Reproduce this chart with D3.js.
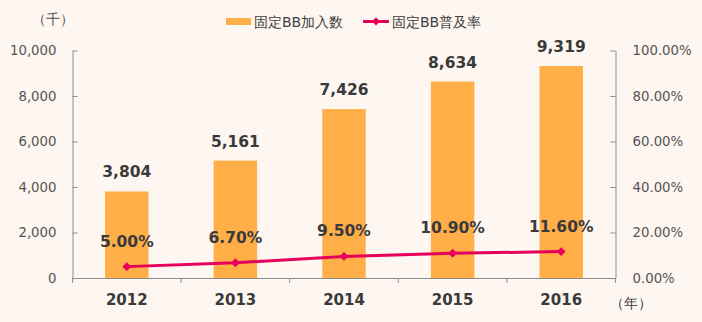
<!DOCTYPE html>
<html>
<head>
<meta charset="utf-8">
<script src="https://cdn.jsdelivr.net/npm/d3@7"></script>
<style>
  html, body { margin: 0; padding: 0; background: #fef6f1; }
  svg { display: block; }
  text { font-family: "DejaVu Sans", Verdana, sans-serif; }
</style>
</head>
<body>
<svg id="chart" width="702" height="322"></svg>
<script>
// Fixed broadband subscriptions (thousands) and penetration rate by year
const years = ["2012", "2013", "2014", "2015", "2016"];
const subscribers = [3804, 5161, 7426, 8634, 9319];
const penetration = [5.00, 6.70, 9.50, 10.90, 11.60];
const leftTicks = [0, 2000, 4000, 6000, 8000, 10000];
const rightTicks = [0, 20, 40, 60, 80, 100];

const svg = d3.select("#chart");
const W = 702, H = 322;
const m = { left: 72.5, right: 702 - 615.5, top: 50.5, bottom: 322 - 278 };

svg.append("rect").attr("width", W).attr("height", H).attr("fill", "#fef6f1");

const x = d3.scaleBand().domain(years).range([m.left, W - m.right]).paddingInner(0).paddingOuter(0);
const yL = d3.scaleLinear().domain([0, 10000]).range([H - m.bottom, m.top]);
const yR = d3.scaleLinear().domain([0, 100]).range([H - m.bottom, m.top]);

const axisColor = "#8c8c8c";
const tickText = "#555";

// bars
const barW = x.bandwidth() * 0.4;
svg.append("g").selectAll("rect").data(years).join("rect")
  .attr("x", (d) => x(d) + (x.bandwidth() - barW) / 2)
  .attr("y", (d, i) => yL(subscribers[i]))
  .attr("width", barW)
  .attr("height", (d, i) => yL(0) - yL(subscribers[i]))
  .attr("fill", "#ffae48");

// left axis
const gL = svg.append("g").attr("transform", `translate(${m.left},0)`)
  .call(d3.axisLeft(yL).tickValues(leftTicks).tickSizeInner(-5).tickSizeOuter(0)
    .tickPadding(16).tickFormat(d3.format(",")));
// right axis
const gR = svg.append("g").attr("transform", `translate(${W - m.right},0)`)
  .call(d3.axisRight(yR).tickValues(rightTicks).tickSizeInner(-5).tickSizeOuter(0)
    .tickPadding(17).tickFormat((d) => d.toFixed(2) + "%"));
// bottom axis with ticks at category boundaries
const gB = svg.append("g").attr("transform", `translate(0,${H - m.bottom})`)
  .call(d3.axisBottom(x).tickSize(0).tickPadding(16));
gB.selectAll(".tick text").attr("font-size", 15).attr("font-weight", "bold").attr("fill", "#3a3a3a");
const bounds = years.map((d) => x(d)).concat([x(years[years.length - 1]) + x.bandwidth()]);
gB.selectAll(".bound").data(bounds).join("line")
  .attr("x1", (d) => d).attr("x2", (d) => d).attr("y1", 0).attr("y2", 5)
  .attr("stroke", axisColor);

[gL, gR, gB].forEach((g) => {
  g.select(".domain").attr("stroke", axisColor);
  g.selectAll(".tick line").attr("stroke", axisColor);
});
[gL, gR].forEach((g) => {
  g.selectAll(".tick text").attr("font-size", 13.3).attr("fill", tickText);
});

// penetration line
const cx = (i) => x(years[i]) + x.bandwidth() / 2;
const line = d3.line().x((d, i) => cx(i)).y((d) => yR(d));
svg.append("path").datum(penetration).attr("d", line)
  .attr("fill", "none").attr("stroke", "#e6005b").attr("stroke-width", 3);
svg.append("g").selectAll("path").data(penetration).join("path")
  .attr("d", d3.symbol(d3.symbolDiamond2, 50)())
  .attr("transform", (d, i) => `translate(${cx(i)},${yR(d)})`)
  .attr("fill", "#e6005b");

// value labels
svg.append("g").selectAll("text").data(subscribers).join("text")
  .attr("x", (d, i) => cx(i)).attr("y", (d) => yL(d) - 14)
  .attr("text-anchor", "middle").attr("font-size", 15.5).attr("font-weight", "bold")
  .attr("fill", "#3a3a3a").text((d) => d3.format(",")(d));
svg.append("g").selectAll("text").data(penetration).join("text")
  .attr("x", (d, i) => cx(i)).attr("y", (d) => yR(d) - 20)
  .attr("text-anchor", "middle").attr("font-size", 15.5).attr("font-weight", "bold")
  .attr("fill", "#3a3a3a").text((d) => d.toFixed(2) + "%");

// unit labels
svg.append("text").attr("x", 53).attr("y", 24).attr("text-anchor", "middle")
  .attr("font-size", 13.5).attr("fill", tickText).text("（千）");
svg.append("text").attr("x", 631).attr("y", 308).attr("text-anchor", "middle")
  .attr("font-size", 13.5).attr("fill", "#3a3a3a").text("（年）");

// legend
const lg = svg.append("g");
lg.append("rect").attr("x", 226).attr("y", 18).attr("width", 25).attr("height", 7).attr("fill", "#ffae48");
lg.append("text").attr("x", 254).attr("y", 26.5).attr("font-size", 14).attr("fill", "#404040").text("固定BB加入数");
lg.append("line").attr("x1", 363).attr("x2", 389).attr("y1", 21.5).attr("y2", 21.5)
  .attr("stroke", "#e6005b").attr("stroke-width", 3);
lg.append("path").attr("d", d3.symbol(d3.symbolDiamond2, 40)())
  .attr("transform", "translate(376,21.5)").attr("fill", "#e6005b");
lg.append("text").attr("x", 392).attr("y", 26.5).attr("font-size", 14).attr("fill", "#404040").text("固定BB普及率");
</script>
</body>
</html>
